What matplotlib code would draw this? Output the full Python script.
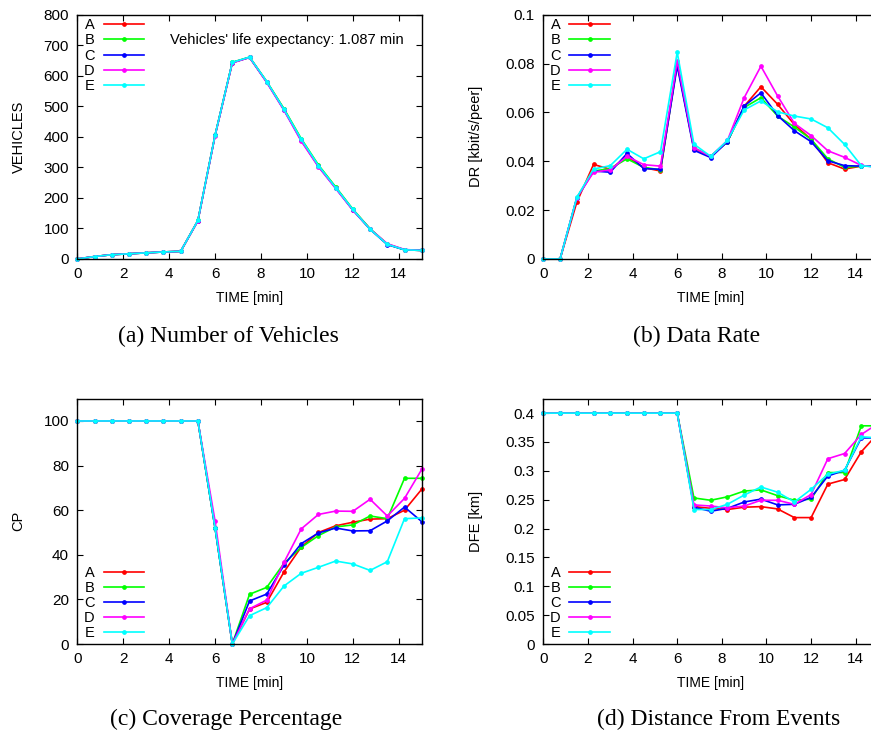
import matplotlib
matplotlib.use("Agg")
import matplotlib.pyplot as plt

# time axis (minutes), sampled every 0.75 min
time = [0, 0.75, 1.5, 2.25, 3, 3.75, 4.5, 5.25, 6, 6.75, 7.5, 8.25, 9, 9.75,
        10.5, 11.25, 12, 12.75, 13.5, 14.25, 15]

series_names = ["A", "B", "C", "D", "E"]
series_colors = ["#ff0000", "#00ff00", "#0000ff", "#ff00ff", "#00ffff"]

# (a) number of vehicles
vehicles = {
    "A": [0, 8, 14, 17, 20, 23, 25, 125, 405, 643, 660, 580, 490, 390, 305, 234, 161, 98, 49, 30, 28],
    "B": [0, 8, 14, 17, 20, 23, 25, 126, 406, 644, 661, 581, 492, 394, 308, 236, 163, 99, 48, 30, 28],
    "C": [0, 8, 14, 17, 20, 23, 25, 125, 405, 643, 660, 579, 488, 388, 303, 232, 160, 97, 47, 30, 28],
    "D": [0, 8, 14, 17, 20, 23, 25, 125, 404, 642, 660, 578, 487, 386, 302, 231, 160, 98, 50, 31, 28],
    "E": [0, 8, 14, 17, 20, 23, 25, 126, 406, 644, 661, 581, 490, 392, 306, 234, 162, 97, 48, 30, 28],
}

# (b) data rate [kbit/s/peer]
data_rate = {
    "A": [0, 0, 0.0232, 0.0387, 0.0367, 0.0419, 0.0374, 0.0360, 0.0800, 0.0450, 0.0420, 0.0480,
          0.0625, 0.0705, 0.0633, 0.0550, 0.0490, 0.0394, 0.0368, 0.0380, 0.0380],
    "B": [0, 0, 0.0250, 0.0360, 0.0370, 0.0410, 0.0375, 0.0365, 0.0800, 0.0455, 0.0420, 0.0480,
          0.0620, 0.0660, 0.0585, 0.0540, 0.0490, 0.0410, 0.0375, 0.0380, 0.0380],
    "C": [0, 0, 0.0250, 0.0360, 0.0355, 0.0432, 0.0370, 0.0367, 0.0790, 0.0445, 0.0415, 0.0480,
          0.0626, 0.0680, 0.0587, 0.0525, 0.0480, 0.0402, 0.0382, 0.0380, 0.0380],
    "D": [0, 0, 0.0250, 0.0355, 0.0365, 0.0420, 0.0386, 0.0380, 0.0810, 0.0455, 0.0420, 0.0485,
          0.0660, 0.0789, 0.0667, 0.0555, 0.0505, 0.0443, 0.0416, 0.0383, 0.0375],
    "E": [0, 0, 0.0252, 0.0368, 0.0382, 0.0449, 0.0410, 0.0439, 0.0846, 0.0470, 0.0420, 0.0485,
          0.0610, 0.0647, 0.0602, 0.0585, 0.0573, 0.0537, 0.0469, 0.0382, 0.0375],
}

# (c) coverage percentage
coverage = {
    "A": [100, 100, 100, 100, 100, 100, 100, 100, 52, 0, 15.7, 18.7, 32.3, 43.5, 50.0,
          53.0, 54.6, 56.0, 56.2, 60.0, 69.4],
    "B": [100, 100, 100, 100, 100, 100, 100, 100, 52, 0, 22.3, 25.4, 36.2, 43.3, 48.6,
          52.5, 53.4, 57.4, 56.2, 74.3, 74.3],
    "C": [100, 100, 100, 100, 100, 100, 100, 100, 52, 0, 19.3, 22.4, 35.3, 45.0, 49.8,
          52.0, 50.7, 50.8, 55.2, 61.4, 54.9],
    "D": [100, 100, 100, 100, 100, 100, 100, 100, 55, 0, 15.8, 19.7, 36.6, 51.6, 58.1,
          59.6, 59.5, 64.9, 57.4, 65.3, 78.3],
    "E": [100, 100, 100, 100, 100, 100, 100, 100, 52, 0, 12.7, 16.3, 26.0, 31.7, 34.4,
          37.2, 35.9, 33.0, 36.9, 56.2, 56.5],
}

# (d) distance from events [km]
distance = {
    "A": [0.4, 0.4, 0.4, 0.4, 0.4, 0.4, 0.4, 0.4, 0.4, 0.238, 0.235, 0.233, 0.237, 0.238,
          0.234, 0.219, 0.219, 0.277, 0.285, 0.333, 0.365],
    "B": [0.4, 0.4, 0.4, 0.4, 0.4, 0.4, 0.4, 0.4, 0.4, 0.253, 0.249, 0.255, 0.265, 0.267,
          0.257, 0.249, 0.251, 0.297, 0.297, 0.378, 0.378],
    "C": [0.4, 0.4, 0.4, 0.4, 0.4, 0.4, 0.4, 0.4, 0.4, 0.237, 0.230, 0.235, 0.246, 0.251,
          0.241, 0.242, 0.254, 0.291, 0.301, 0.357, 0.357],
    "D": [0.4, 0.4, 0.4, 0.4, 0.4, 0.4, 0.4, 0.4, 0.4, 0.241, 0.239, 0.236, 0.239, 0.249,
          0.249, 0.242, 0.259, 0.321, 0.330, 0.363, 0.382],
    "E": [0.4, 0.4, 0.4, 0.4, 0.4, 0.4, 0.4, 0.4, 0.4, 0.233, 0.233, 0.242, 0.258, 0.272,
          0.263, 0.246, 0.268, 0.294, 0.301, 0.359, 0.357],
}

x_ticks = [0, 2, 4, 6, 8, 10, 12, 14]

plt.rcParams["font.family"] = ["Liberation Sans", "DejaVu Sans"]
plt.rcParams["font.size"] = 10

fig = plt.figure(figsize=(8.71, 7.33), dpi=100)

# axes placement (figure fractions); the right column runs past the page edge
ax_a = fig.add_axes([0.0888, 0.6467, 0.3954, 0.3333])
ax_b = fig.add_axes([0.6238, 0.6467, 0.3843, 0.3333])
ax_c = fig.add_axes([0.0888, 0.1214, 0.3954, 0.3347])
ax_d = fig.add_axes([0.6238, 0.1214, 0.3843, 0.3347])


def draw_panel(ax, data, ylim, yticks, ylabel, legend_loc, ylabel_x, xlabel_y):
    for name, color in zip(series_names, series_colors):
        ax.plot(time, data[name], color=color, lw=1.2, marker="o", ms=2.4,
                label=name, clip_on=False)
    ax.set_xlim(0, 15)
    ax.set_ylim(*ylim)
    ax.set_xticks(x_ticks)
    ax.set_yticks(yticks)
    ax.tick_params(direction="in", top=True, right=True, length=4, width=0.8,
                   labelsize=11, pad=6)
    for spine in ax.spines.values():
        spine.set_linewidth(1.0)
    ax.set_xlabel("TIME [min]", fontsize=10)
    ax.xaxis.set_label_coords(0.5, xlabel_y)
    ax.set_ylabel(ylabel, fontsize=10.5)
    ax.yaxis.set_label_coords(ylabel_x, 0.5)
    if legend_loc == "top":
        anchor, loc = (0.02, 0.985), "upper left"
    else:
        anchor, loc = (0.02, 0.015), "lower left"
    ax.legend(loc=loc, bbox_to_anchor=anchor, frameon=False, markerfirst=False,
              handlelength=2.8, handletextpad=0.6, labelspacing=0.08,
              borderpad=0.0, borderaxespad=0.0, fontsize=10.5)


draw_panel(ax_a, vehicles, (0, 800), range(0, 801, 100), "VEHICLES", "top", -0.15, -0.13)
draw_panel(ax_b, data_rate, (0, 0.1), [0, 0.02, 0.04, 0.06, 0.08, 0.1],
           "DR [kbit/s/peer]", "top", -0.18, -0.13)
draw_panel(ax_c, coverage, (0, 110), range(0, 101, 20), "CP", "bottom", -0.15, -0.13)
draw_panel(ax_d, distance, (0, 0.425), [0, 0.05, 0.1, 0.15, 0.2, 0.25, 0.3, 0.35, 0.4],
           "DFE [km]", "bottom", -0.18, -0.13)

ax_b.set_yticklabels(["0", "0.02", "0.04", "0.06", "0.08", "0.1"])
ax_d.set_yticklabels(["0", "0.05", "0.1", "0.15", "0.2", "0.25", "0.3", "0.35", "0.4"])

ax_a.text(0.949, 0.896, "Vehicles' life expectancy: 1.087 min", transform=ax_a.transAxes,
          ha="right", va="center", fontsize=10.6)

caption_font = {"family": ["Liberation Serif", "DejaVu Serif"], "size": 17}
fig.text(0.262, 0.541, "(a) Number of Vehicles", ha="center", va="center", fontdict=caption_font)
fig.text(0.800, 0.541, "(b) Data Rate", ha="center", va="center", fontdict=caption_font)
fig.text(0.260, 0.018, "(c) Coverage Percentage", ha="center", va="center", fontdict=caption_font)
fig.text(0.825, 0.018, "(d) Distance From Events", ha="center", va="center", fontdict=caption_font)

fig.savefig("out.png", dpi=100)
